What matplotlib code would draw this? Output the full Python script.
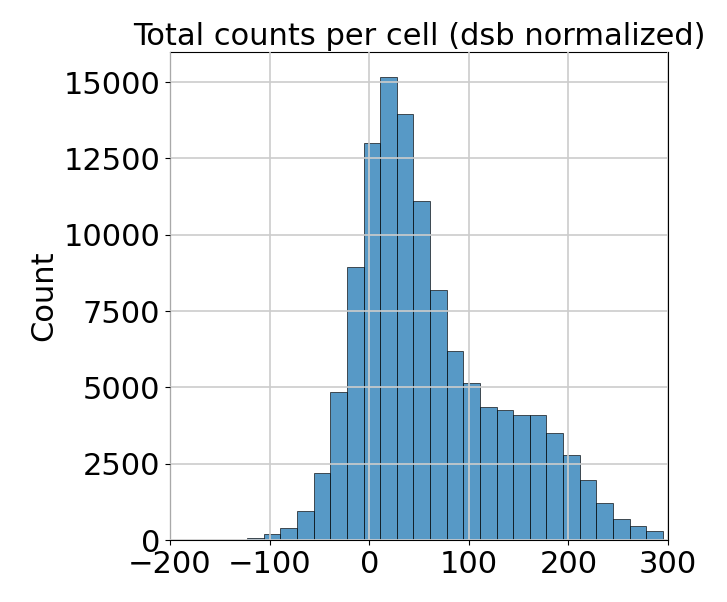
import matplotlib
matplotlib.use("Agg")
import matplotlib.pyplot as plt
import numpy as np

bin_start = -156
bin_width = 16.7
counts = [5, 15, 80, 200, 380, 950, 2200, 4850, 8950, 13000, 15150, 13950, 11100,
          8200, 6200, 5150, 4350, 4250, 4100, 4100, 3500, 2800, 1950, 1200, 700, 450, 300]
edges = bin_start + bin_width * np.arange(len(counts))

fig = plt.figure(figsize=(7.27, 6.02), dpi=100)
ax = fig.add_axes([170/727, 62/602, 498/727, 488/602])
ax.bar(edges, counts, width=bin_width, align="edge", color="#1f77b4", alpha=0.75,
       edgecolor="black", linewidth=0.6, zorder=1)
ax.grid(True, color="#cccccc", linewidth=1.2, zorder=2)
ax.set_axisbelow(False)
ax.set_xlim(-200, 300)
ax.set_ylim(0, 15983)
ax.set_xticks([-200, -100, 0, 100, 200, 300])
ax.set_yticks([0, 2500, 5000, 7500, 10000, 12500, 15000])
ax.tick_params(labelsize=22)
ax.set_ylabel("Count", fontsize=22)
ax.set_title("Total counts per cell (dsb normalized)", fontsize=22, pad=5)
fig.savefig("out.png", dpi=100)
